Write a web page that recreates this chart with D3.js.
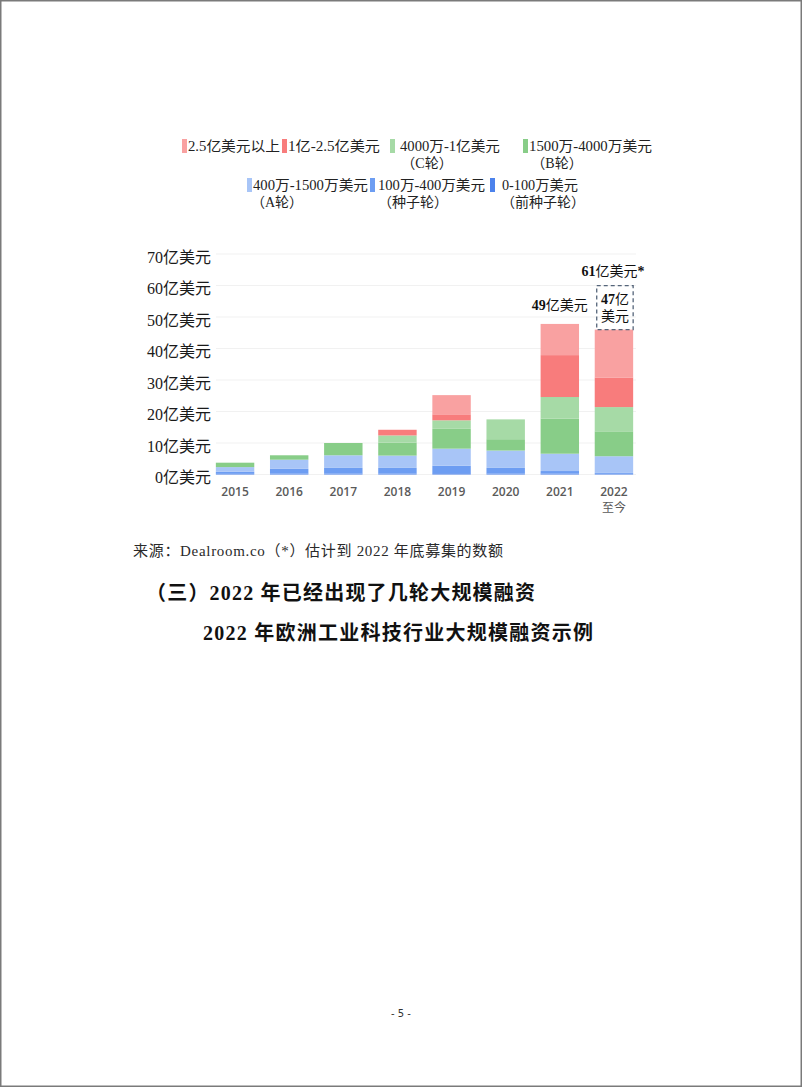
<!DOCTYPE html>
<html>
<head>
<meta charset="utf-8">
<script src="https://cdn.jsdelivr.net/npm/d3@7"></script>
<style>
  body { margin: 0; background: #fff; }
  svg text { font-family: "Liberation Serif", "Noto Sans CJK SC", serif; }
</style>
</head>
<body>
<div id="page"></div>
<script>
// categories and values (亿美元)
var years = ["2015", "2016", "2017", "2018", "2019", "2020", "2021", "2022"];
var preSeed = [0.2, 0.3, 0.3, 0.3, 0.4, 0.3, 0.3, 0.2];   // 0-100万美元
var seed    = [0.65, 1.5, 1.8, 1.8, 2.4, 1.8, 0.8, 0.3];  // 100万-400万美元
var roundA  = [1.5, 2.9, 4.0, 3.9, 5.4, 5.5, 5.5, 5.3];   // 400万-1500万美元
var roundB  = [1.4, 1.4, 3.9, 4.1, 6.3, 3.6, 11.1, 7.9];  // 1500万-4000万美元
var roundC  = [0, 0, 0, 2.3, 2.7, 6.3, 6.9, 7.7];         // 4000万-1亿美元
var mega    = [0, 0, 0, 1.8, 1.9, 0, 13.3, 9.4];          // 1亿-2.5亿美元
var giga    = [0, 0, 0, 0, 6.1, 0, 9.9, 15.2];            // 2.5亿美元以上
var yTicks = [0, 10, 20, 30, 40, 50, 60, 70];

var seriesKeys = ["preSeed", "seed", "roundA", "roundB", "roundC", "mega", "giga"];
var colors = {
    preSeed: "#4c82ec", seed: "#6d9df2", roundA: "#a8c5f7",
    roundB: "#88cd88", roundC: "#a6daa6", mega: "#f87c7c", giga: "#f9a1a1"
};

// set the dimensions of the page
var width = 802, height = 1087;

var svg = d3.select("#page")
    .append("svg")
    .attr("width", width)
    .attr("height", height);

// page frame
svg.append("rect")
    .attr("x", 0.75).attr("y", 0.75)
    .attr("width", width - 1.5).attr("height", height - 1.5)
    .attr("fill", "#fff")
    .attr("stroke", "#7a7a7a")
    .attr("stroke-width", 1.5);

// Reformat data for stacking
var data = years.map(function (yr, i) {
    return {
        year: yr, preSeed: preSeed[i], seed: seed[i], roundA: roundA[i],
        roundB: roundB[i], roundC: roundC[i], mega: mega[i], giga: giga[i]
    };
});
var stacked = d3.stack().keys(seriesKeys)(data);

// scales
var x = d3.scaleBand()
    .domain(years)
    .range([208, 641])
    .paddingInner(0.29)
    .paddingOuter(0.145);

var y = d3.scaleLinear()
    .domain([0, 70])
    .range([474.5, 254]);

// gridlines
svg.append("g")
    .selectAll("line")
    .data(yTicks)
    .enter()
    .append("line")
    .attr("x1", 216).attr("x2", 636)
    .attr("y1", function (d) { return y(d); })
    .attr("y2", function (d) { return y(d); })
    .attr("stroke", "#f1f1f1")
    .attr("stroke-width", 1);

// y axis labels
svg.append("g")
    .selectAll("text")
    .data(yTicks)
    .enter()
    .append("text")
    .attr("x", 211)
    .attr("y", function (d) { return y(d) + 3; })
    .attr("dy", "0.35em")
    .attr("text-anchor", "end")
    .style("font-size", "16px")
    .style("fill", "#1a1a1a")
    .text(function (d) { return d + "亿美元"; });

// stacked bars
svg.append("g")
    .selectAll("g")
    .data(stacked)
    .enter()
    .append("g")
    .attr("fill", function (d) { return colors[d.key]; })
    .selectAll("rect")
    .data(function (d) { return d; })
    .enter()
    .append("rect")
    .attr("x", function (d) { return x(d.data.year); })
    .attr("y", function (d) { return y(d[1]); })
    .attr("height", function (d) { return y(d[0]) - y(d[1]); })
    .attr("width", x.bandwidth());

// x axis labels
var xLab = svg.append("g");
xLab.selectAll("text")
    .data(years)
    .enter()
    .append("text")
    .attr("x", function (d) { return x(d) + x.bandwidth() / 2; })
    .attr("y", 496)
    .attr("text-anchor", "middle")
    .style("font-family", "'Open Sans', 'Noto Sans CJK SC', sans-serif")
    .style("font-size", "12px")
    .style("font-weight", 600)
    .style("fill", "#5a5a5a")
    .text(function (d) { return d; });
xLab.append("text")
    .attr("x", x("2022") + x.bandwidth() / 2)
    .attr("y", 512)
    .attr("text-anchor", "middle")
    .style("font-family", "'Noto Sans CJK SC', sans-serif")
    .style("font-size", "12px")
    .style("fill", "#5a5a5a")
    .text("至今");

// annotation for 2021 total
var total2021 = d3.sum(seriesKeys, function (k) { return data[6][k]; });
var a21 = svg.append("text")
    .attr("x", x("2021") + x.bandwidth() / 2)
    .attr("y", y(total2021) - 14)
    .attr("text-anchor", "middle")
    .style("font-size", "14px")
    .style("fill", "#111");
a21.append("tspan").style("font-weight", "bold").text("49");
a21.append("tspan").text("亿美元");

// annotation for 2022: estimate + dashed box
var c22 = x("2022") + x.bandwidth() / 2;
var total2022 = d3.sum(seriesKeys, function (k) { return data[7][k]; });
svg.append("rect")
    .attr("x", x("2022") + 2)
    .attr("y", y(total2022) - 44)
    .attr("width", x.bandwidth() - 2)
    .attr("height", 44)
    .attr("fill", "none")
    .attr("stroke", "#55657a")
    .attr("stroke-width", 1.3)
    .attr("stroke-dasharray", "4,3");
var a22 = svg.append("text")
    .attr("x", c22 + 1)
    .attr("y", y(total2022) - 26)
    .attr("text-anchor", "middle")
    .style("font-size", "14px")
    .style("fill", "#111");
a22.append("tspan").style("font-weight", "bold").text("47");
a22.append("tspan").text("亿");
svg.append("text")
    .attr("x", c22 + 1)
    .attr("y", y(total2022) - 9)
    .attr("text-anchor", "middle")
    .style("font-size", "14px")
    .style("fill", "#111")
    .text("美元");
var est = svg.append("text")
    .attr("x", c22 - 1)
    .attr("y", 276)
    .attr("text-anchor", "middle")
    .style("font-size", "14px")
    .style("fill", "#111");
est.append("tspan").style("font-weight", "bold").text("61");
est.append("tspan").text("亿美元");
est.append("tspan").style("font-weight", "bold").text("*");

// legend (swatch x, text start, text length, sub-label centre)
var legendItems = [
    {key: "giga", label: "2.5亿美元以上", sub: null, x: 182, tx: 188, len: 92, y: 146},
    {key: "mega", label: "1亿-2.5亿美元", sub: null, x: 282, tx: 288, len: 92, y: 146},
    {key: "roundC", label: "4000万-1亿美元", sub: "（C轮）", x: 390, tx: 400, len: 100, sc: 427, y: 146},
    {key: "roundB", label: "1500万-4000万美元", sub: "（B轮）", x: 523, tx: 529, len: 123, sc: 557, y: 146},
    {key: "roundA", label: "400万-1500万美元", sub: "（A轮）", x: 247, tx: 253, len: 115, sc: 277, y: 185},
    {key: "seed", label: "100万-400万美元", sub: "（种子轮）", x: 370, tx: 378, len: 107, sc: 413, y: 185},
    {key: "preSeed", label: "0-100万美元", sub: "（前种子轮）", x: 490, tx: 502, len: 76, sc: 543, y: 185}
];
var lg = svg.append("g");
legendItems.forEach(function (it) {
    lg.append("rect")
        .attr("x", it.x).attr("y", it.y - 7)
        .attr("width", 5).attr("height", 14)
        .attr("fill", colors[it.key]);
    lg.append("text")
        .attr("x", it.tx)
        .attr("y", it.y)
        .attr("dy", "0.35em")
        .attr("textLength", it.len)
        .attr("lengthAdjust", "spacingAndGlyphs")
        .style("font-size", "14px")
        .style("fill", "#222")
        .text(it.label);
    if (it.sub) {
        lg.append("text")
            .attr("x", it.sc)
            .attr("y", it.y + 17)
            .attr("dy", "0.35em")
            .attr("text-anchor", "middle")
            .style("font-size", "14px")
            .style("fill", "#222")
            .text(it.sub);
    }
});

// source note
svg.append("text")
    .attr("x", 133)
    .attr("y", 556)
    .attr("textLength", 370)
    .attr("lengthAdjust", "spacing")
    .style("font-size", "15px")
    .style("fill", "#2a2a2a")
    .text("来源：Dealroom.co（*）估计到 2022 年底募集的数额");

// section heading
svg.append("text")
    .attr("x", 146)
    .attr("y", 600)
    .attr("textLength", 389)
    .attr("lengthAdjust", "spacing")
    .style("font-size", "20px")
    .style("font-weight", "bold")
    .style("fill", "#111")
    .text("（三）2022 年已经出现了几轮大规模融资");

svg.append("text")
    .attr("x", 203)
    .attr("y", 640)
    .attr("textLength", 390)
    .attr("lengthAdjust", "spacing")
    .style("font-size", "20px")
    .style("font-weight", "bold")
    .style("fill", "#111")
    .text("2022 年欧洲工业科技行业大规模融资示例");

// page number
svg.append("text")
    .attr("x", 401)
    .attr("y", 1017)
    .attr("text-anchor", "middle")
    .style("font-family", "'DejaVu Sans', sans-serif")
    .style("font-size", "10px")
    .style("fill", "#333")
    .text("- 5 -");
</script>
</body>
</html>
